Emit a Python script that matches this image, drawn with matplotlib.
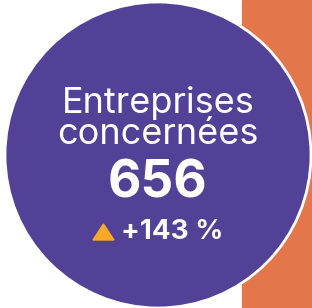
import matplotlib
matplotlib.use("Agg")
import matplotlib.pyplot as plt
from matplotlib.patches import Circle, Rectangle, Polygon

label = ["Entreprises", "concernées"]
value = 656
change = 143

purple = "#524197"
orange = "#E4764B"
tri_col = "#F7A928"

fig = plt.figure(figsize=(3.12, 3.08), dpi=100)
ax = fig.add_axes([0, 0, 1, 1])
ax.set_xlim(0, 312)
ax.set_ylim(308, 0)
ax.axis("off")

ax.add_patch(Rectangle((242, 0), 70, 308, color=orange, zorder=1))
ax.add_patch(Circle((158, 155), 153, facecolor=purple, edgecolor="white", lw=2, zorder=2))

font = ["Inter", "DejaVu Sans"]
ax.text(158, 103, label[0], ha="center", va="center", color="white", fontsize=26, family=font, zorder=3)
ax.text(158, 134, label[1], ha="center", va="center", color="white", fontsize=26, family=font, zorder=3)
ax.text(157, 184, str(value), ha="center", va="center", color="white", fontsize=37, fontweight="bold", family=font, zorder=3)
ax.text(172, 232, "+%d %%" % change, ha="center", va="center", color="white", fontsize=20, fontweight="bold", family=font, zorder=3)
ax.add_patch(Polygon([[93, 240], [114, 240], [103.5, 224]], color=tri_col, zorder=3))

fig.savefig("out.png", dpi=100)
